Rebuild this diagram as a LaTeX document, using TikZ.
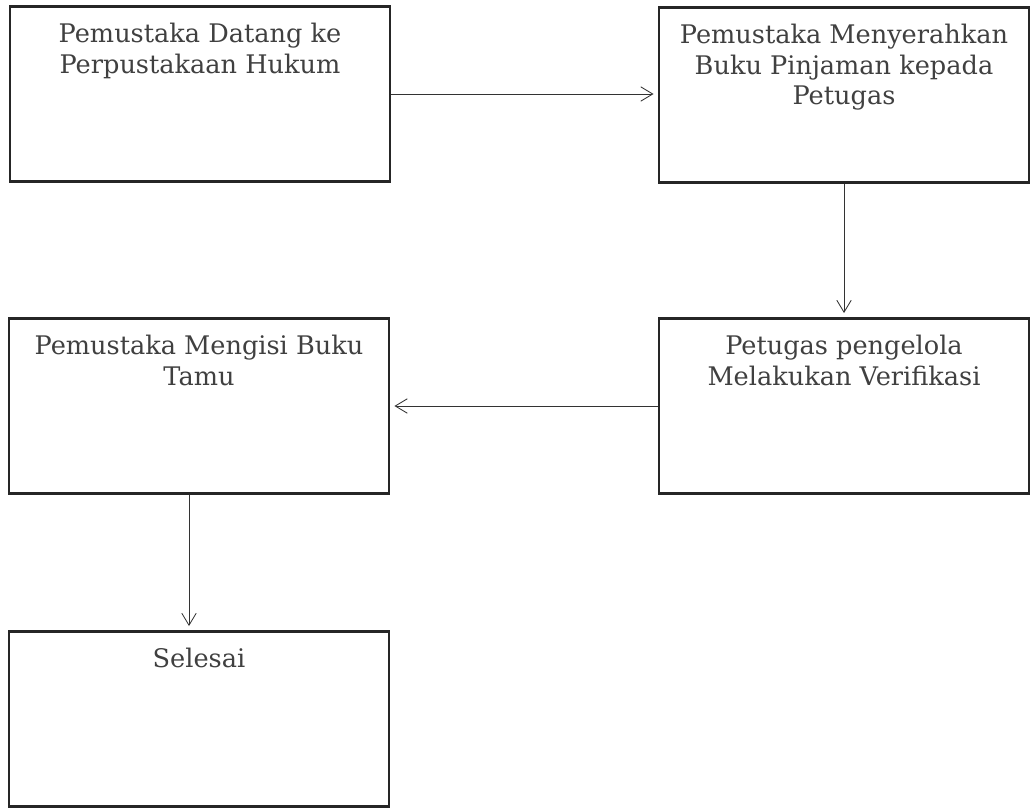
\documentclass[tikz,border=0pt]{standalone}
\usepackage{fontspec}
\setmainfont{DejaVu Serif}
\usetikzlibrary{arrows.meta}
\tikzset{
  stepbox/.style={draw=black!85, line width=1.7pt, inner sep=0pt,
    font=\fontsize{18.2}{21.6}\selectfont, text=black!75},
  flow/.style={draw=black!80, line width=0.6pt,
    -{Straight Barb[length=3mm,width=3.6mm]}, shorten >=3pt}
}
\newcommand{\steptext}[2]{\parbox[c][4.375cm][t]{#1}{\centering\vspace*{0.42cm}#2\par}}
\begin{document}
\begin{tikzpicture}[x=0.025cm,y=-0.025cm]
\useasboundingbox (0,0) rectangle (1030,807);
% kotak alur
\node[stepbox] (datang) at (200,94) {\steptext{9.5cm}{Pemustaka Datang ke\\Perpustakaan Hukum}};
\node[stepbox] (serah) at (844,95) {\steptext{9.25cm}{Pemustaka Menyerahkan\\Buku Pinjaman kepada\\Petugas}};
\node[stepbox] (verif) at (844,406) {\steptext{9.25cm}{Petugas pengelola\\Melakukan Verifikasi}};
\node[stepbox] (tamu) at (199,406) {\steptext{9.5cm}{Pemustaka Mengisi Buku\\Tamu}};
\node[stepbox] (selesai) at (199,719) {\steptext{9.5cm}{Selesai}};
% panah
\draw[flow] (datang.east) -- (datang.east -| serah.west);
\draw[flow] (serah.south) -- (verif.north);
\draw[flow] (verif.west) -- (verif.west -| tamu.east);
\draw[flow] ([xshift=-0.25cm]tamu.south) -- ([xshift=-0.25cm]tamu.south |- selesai.north);
\end{tikzpicture}
\end{document}
